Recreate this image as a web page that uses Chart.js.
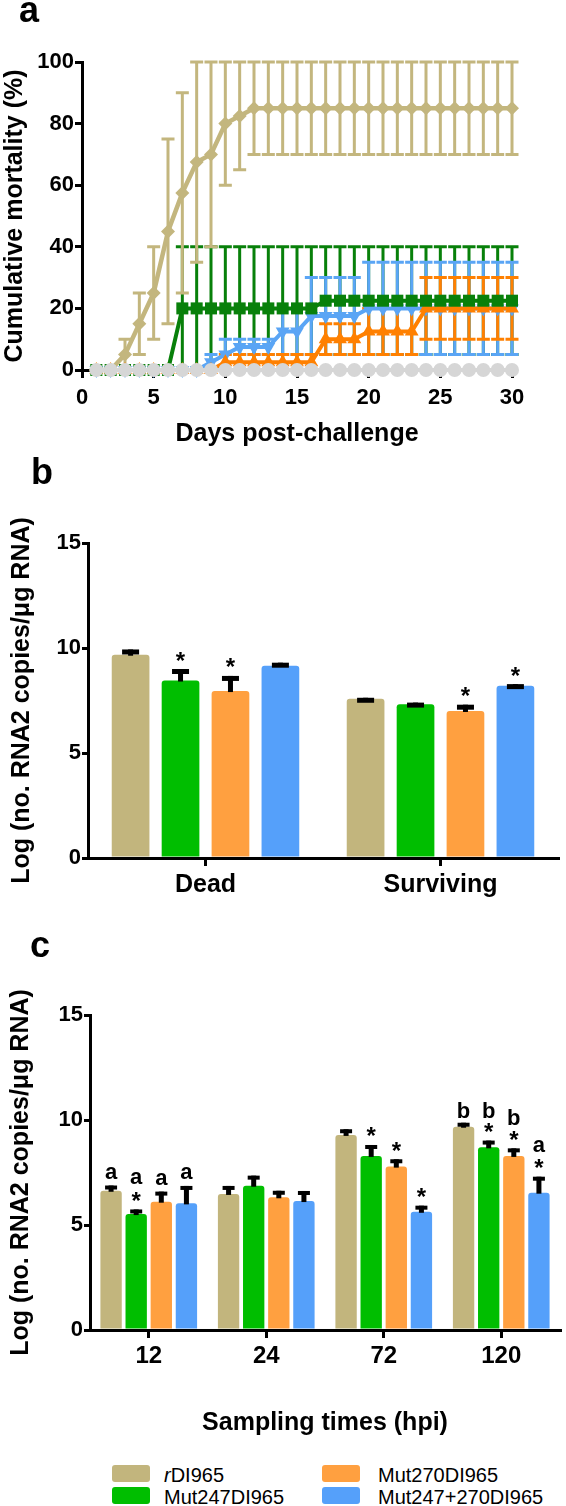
<!DOCTYPE html>
<html>
<head>
<meta charset="utf-8">
<script src="https://cdn.jsdelivr.net/npm/chart.js@4.4.1/dist/chart.umd.min.js"></script>
<style>
  html, body { margin:0; padding:0; background:#fff; }
  body { width:566px; height:1506px; position:relative; overflow:hidden; font-family:"Liberation Sans", Arial, Helvetica, sans-serif; }
  canvas { position:absolute; left:0; }
  .panel { position:absolute; font-weight:bold; font-size:36px; line-height:36px; color:#000; }
  .sw { position:absolute; width:38px; height:17px; border-radius:3px; }
  .lt { position:absolute; font-size:20px; line-height:20px; color:#000; white-space:nowrap; }
</style>
</head>
<body>
<canvas id="chartA" width="566" height="450" style="top:0px"></canvas>
<canvas id="chartB" width="566" height="440" style="top:460px"></canvas>
<canvas id="chartC" width="566" height="485" style="top:960px"></canvas>
<div class="panel" style="left:19px;top:-8px">a</div>
<div class="panel" style="left:31px;top:454px">b</div>
<div class="panel" style="left:30px;top:927px">c</div>
<div id="legend"></div>
<script>
// ---------- shared ----------
const FONT = '"Liberation Sans", Arial, Helvetica, sans-serif';
const seriesNames = ['rDI965', 'Mut247DI965', 'Mut270DI965', 'Mut247+270DI965'];
const barColors  = ['#c2b57d', '#00be00', '#ffa040', '#55a0fa'];
const lineColors = ['#c3b67e', '#08800a', '#ff8000', '#5aa5f5'];
const controlColor = '#d6d6d6';

// ---------- panel a : cumulative mortality (%) ----------
const days      = [1,2,3,4,5,6,7,8,9,10,11,12,13,14,15,16,17,18,19,20,21,22,23,24,25,26,27,28,29,30];
const mortR     = [0,0,5,15,25,45,57.5,67.5,70,80,82.5,85,85,85,85,85,85,85,85,85,85,85,85,85,85,85,85,85,85,85];
const mortRLo   = [0,0,0,5,10,15,25,35,40,60,65,70,70,70,70,70,70,70,70,70,70,70,70,70,70,70,70,70,70,70];
const mortRHi   = [0,0,10,25,40,75,90,100,100,100,100,100,100,100,100,100,100,100,100,100,100,100,100,100,100,100,100,100,100,100];
const mort247   = [0,0,0,0,0,0,20,20,20,20,20,20,20,20,20,20,22.5,22.5,22.5,22.5,22.5,22.5,22.5,22.5,22.5,22.5,22.5,22.5,22.5,22.5];
const mort247Lo = [0,0,0,0,0,0,0,0,0,0,0,0,0,0,0,0,5,5,5,5,5,5,5,5,5,5,5,5,5,5];
const mort247Hi = [0,0,0,0,0,0,40,40,40,40,40,40,40,40,40,40,40,40,40,40,40,40,40,40,40,40,40,40,40,40];
const mort270   = [0,0,0,0,0,0,0,0,0,2.5,2.5,2.5,2.5,2.5,2.5,2.5,10,10,10,12.5,12.5,12.5,12.5,20,20,20,20,20,20,20];
const mort270Lo = [0,0,0,0,0,0,0,0,0,0,0,0,0,0,0,0,5,5,5,5,5,5,5,10,10,10,10,10,10,10];
const mort270Hi = [0,0,0,0,0,0,0,0,0,5,5,5,5,5,5,5,15,15,15,20,20,20,20,30,30,30,30,30,30,30];
const mortB     = [0,0,0,0,0,0,0,0,2.5,5,7.5,7.5,7.5,12.5,12.5,17.5,17.5,17.5,17.5,20,20,20,20,20,20,20,20,20,20,20];
const mortBLo   = [0,0,0,0,0,0,0,0,0,0,5,5,5,5,5,5,5,5,5,5,5,5,5,5,5,5,5,5,5,5];
const mortBHi   = [0,0,0,0,0,0,0,0,5,10,10,10,10,20,20,30,30,30,30,35,35,35,35,35,35,35,35,35,35,35];
const mortCtl   = [0,0,0,0,0,0,0,0,0,0,0,0,0,0,0,0,0,0,0,0,0,0,0,0,0,0,0,0,0,0];
const aTicksX   = [0,5,10,15,20,25,30];
const aTicksY   = [0,20,40,60,80,100];

// ---------- panel b : viral load, dead vs surviving ----------
const bCategories = ['Dead', 'Surviving'];
const bMean_r       = [9.68, 7.58];
const bErr_r        = [0.25, 0.05];
const bMean_m247    = [8.45, 7.32];
const bErr_m247     = [0.55, 0.08];
const bMean_m270    = [7.95, 7.00];
const bErr_m270     = [0.72, 0.30];
const bMean_m247270 = [9.15, 8.20];
const bErr_m247270  = [0.15, 0.08];
const bStar_r       = ['', ''];
const bStar_m247    = ['*', ''];
const bStar_m270    = ['*', '*'];
const bStar_m247270 = ['', '*'];

// ---------- panel c : viral load over sampling times ----------
const cCategories = ['12', '24', '72', '120'];
const cMean_r       = [6.63, 6.48, 9.29, 9.68];
const cErr_r        = [0.25, 0.38, 0.27, 0.19];
const cMean_m247    = [5.52, 6.87, 8.29, 8.70];
const cErr_m247     = [0.22, 0.48, 0.52, 0.32];
const cMean_m270    = [6.11, 6.32, 7.78, 8.29];
const cErr_m270     = [0.48, 0.31, 0.35, 0.36];
const cMean_m247270 = [6.03, 6.14, 5.63, 6.54];
const cErr_m247270  = [0.83, 0.48, 0.29, 0.76];
const cStar_r       = ['', '', '', ''];
const cStar_m247    = ['*', '', '*', '*'];
const cStar_m270    = ['', '', '*', '*'];
const cStar_m247270 = ['', '', '*', '*'];
const cLetter_r       = ['a', '', '', 'b'];
const cLetter_m247    = ['a', '', '', 'b'];
const cLetter_m270    = ['a', '', '', 'b'];
const cLetter_m247270 = ['a', '', '', 'a'];
const bcTicksY = [0, 5, 10, 15];

// ---------- plugins ----------
// all range (error) bars are painted first, under every line and marker
const rangeBars = {
  id: 'rangeBars',
  beforeDatasetsDraw(chart) {
    const ys = chart.scales.y, ctx = chart.ctx;
    const order = chart.options.errOrder || [];
    ctx.save();
    ctx.lineWidth = 3;
    ctx.lineCap = 'butt';
    order.forEach(di => {
      const ds = chart.data.datasets[di];
      if (!ds.errLo) return;
      const meta = chart.getDatasetMeta(di);
      ctx.strokeStyle = ds.borderColor;
      meta.data.forEach((pt, i) => {
        const x = pt.x;
        const yl = ys.getPixelForValue(ds.errLo[i]);
        const yh = ys.getPixelForValue(ds.errHi[i]);
        const cw = 6.5;
        ctx.beginPath();
        ctx.moveTo(x, yl); ctx.lineTo(x, yh);
        ctx.moveTo(x - cw, yl); ctx.lineTo(x + cw, yl);
        ctx.moveTo(x - cw, yh); ctx.lineTo(x + cw, yh);
        ctx.stroke();
      });
    });
    ctx.restore();
  }
};

function makeBarErr(capW, stemW, capH, noteSize) {
  return {
    id: 'barErr',
    afterDatasetsDraw(chart) {
      const ctx = chart.ctx, ys = chart.scales.y;
      ctx.save();
      chart.data.datasets.forEach((ds, di) => {
        const meta = chart.getDatasetMeta(di);
        meta.data.forEach((bar, i) => {
          const x = bar.x;
          const yTop = ys.getPixelForValue(ds.data[i]);
          const yCap = ys.getPixelForValue(ds.data[i] + ds.err[i]);
          ctx.fillStyle = '#000';
          ctx.fillRect(x - stemW / 2, yCap, stemW, yTop - yCap + 1);
          ctx.fillRect(x - capW / 2, yCap, capW, capH);
          const notes = ds.notes[i];
          ctx.textAlign = 'center';
          ctx.textBaseline = 'alphabetic';
          notes.forEach((t, k) => {
            ctx.font = 'bold ' + (t === '*' ? noteSize + 2 : noteSize) + 'px ' + FONT;
            const m = ctx.measureText(t);
            const cy = yCap - 13 - 18 * k;
            const base = cy + (m.actualBoundingBoxAscent - m.actualBoundingBoxDescent) / 2;
            ctx.fillText(t, x, base);
          });
        });
      });
      ctx.restore();
    }
  };
}

function axisCommon(tickSize, tickLen, pad) {
  return {
    ticks: { color: '#000', font: { family: FONT, size: tickSize, weight: 'bold' }, padding: pad, maxRotation: 0, autoSkip: false },
    grid: { drawOnChartArea: false, color: '#000', lineWidth: 3, tickLength: tickLen },
    border: { color: '#000', width: 3 }
  };
}

// ---------- chart a ----------
function lineDs(vals, lo, hi, color, style, radius, rot, width) {
  return {
    data: days.map((d, i) => ({ x: d, y: vals[i] })),
    errLo: lo, errHi: hi,
    borderColor: color, backgroundColor: color,
    pointBackgroundColor: color, pointBorderColor: color,
    borderWidth: width, pointStyle: style, pointRadius: radius, pointRotation: rot,
    pointBorderWidth: 0, tension: 0, clip: false
  };
}

// dataset 0 is painted on top, the last one at the bottom
new Chart(document.getElementById('chartA'), {
  type: 'line',
  data: { datasets: [
    lineDs(mortCtl, null, null, controlColor, 'circle', 7, 0, 4),
    lineDs(mortR, mortRLo, mortRHi, lineColors[0], 'rectRot', 7, 0, 4.5),
    lineDs(mort247, mort247Lo, mort247Hi, lineColors[1], 'rect', 8.5, 0, 4),
    lineDs(mort270, mort270Lo, mort270Hi, lineColors[2], 'triangle', 8, 0, 4),
    lineDs(mortB, mortBLo, mortBHi, lineColors[3], 'triangle', 8, 180, 4)
  ]},
  options: {
    errOrder: [2, 4, 3, 1],
    responsive: false, animation: false, events: [],
    layout: { padding: { left: 0, right: 54, top: 62, bottom: 0 } },
    plugins: { legend: { display: false }, tooltip: { enabled: false } },
    scales: {
      x: Object.assign({}, axisCommon(22, 8, 7), {
        type: 'linear', min: 0, max: 30,
        afterFit(s) { s.height = 80; },
        afterBuildTicks(s) { s.ticks = aTicksX.map(v => ({ value: v })); },
        title: { display: true, text: 'Days post-challenge', color: '#000', font: { family: FONT, size: 25, weight: 'bold' }, padding: { top: 0, bottom: 1 } }
      }),
      y: Object.assign({}, axisCommon(22, 7, 1), {
        min: 0, max: 100,
        afterFit(s) { s.width = 82; },
        afterBuildTicks(s) { s.ticks = aTicksY.map(v => ({ value: v })); },
        title: { display: true, text: 'Cumulative mortality (%)', color: '#000', font: { family: FONT, size: 25, weight: 'bold' }, padding: 0 }
      })
    }
  },
  plugins: [rangeBars]
});

// ---------- chart b ----------
const bMeans = [bMean_r, bMean_m247, bMean_m270, bMean_m247270];
const bErrs  = [bErr_r, bErr_m247, bErr_m270, bErr_m247270];
const bStars = [bStar_r, bStar_m247, bStar_m270, bStar_m247270];
new Chart(document.getElementById('chartB'), {
  type: 'bar',
  data: {
    labels: bCategories,
    datasets: seriesNames.map((n, k) => ({
      label: n, data: bMeans[k], err: bErrs[k],
      notes: bStars[k].map(s => s ? [s] : []),
      backgroundColor: barColors[k], borderWidth: 0,
      borderRadius: { topLeft: 3, topRight: 3 }, borderSkipped: 'bottom',
      categoryPercentage: 0.85, barPercentage: 0.755
    }))
  },
  options: {
    responsive: false, animation: false, events: [],
    layout: { padding: { left: 0, right: 8, top: 83, bottom: 0 } },
    plugins: { legend: { display: false }, tooltip: { enabled: false } },
    scales: {
      x: Object.assign({}, axisCommon(25, 8, 4), {
        afterFit(s) { s.height = 42; },
        grid: { offset: false, drawOnChartArea: false, color: '#000', lineWidth: 3, tickLength: 8 }
      }),
      y: Object.assign({}, axisCommon(22, 6, 1), {
        min: 0, max: 15,
        afterFit(s) { s.width = 88; },
        afterBuildTicks(s) { s.ticks = bcTicksY.map(v => ({ value: v })); },
        title: { display: true, text: 'Log (no. RNA2 copies/μg RNA)', color: '#000', font: { family: FONT, size: 25, weight: 'bold' }, padding: { top: 7, bottom: 0 } }
      })
    }
  },
  plugins: [makeBarErr(17, 5, 5, 22)]
});

// ---------- chart c ----------
const cMeans   = [cMean_r, cMean_m247, cMean_m270, cMean_m247270];
const cErrs    = [cErr_r, cErr_m247, cErr_m270, cErr_m247270];
const cStars   = [cStar_r, cStar_m247, cStar_m270, cStar_m247270];
const cLetters = [cLetter_r, cLetter_m247, cLetter_m270, cLetter_m247270];
new Chart(document.getElementById('chartC'), {
  type: 'bar',
  data: {
    labels: cCategories,
    datasets: seriesNames.map((n, k) => ({
      label: n, data: cMeans[k], err: cErrs[k],
      notes: cStars[k].map((s, i) => [s, cLetters[k][i]].filter(t => t)),
      backgroundColor: barColors[k], borderWidth: 0,
      borderRadius: { topLeft: 3, topRight: 3 }, borderSkipped: 'bottom',
      categoryPercentage: 0.855, barPercentage: 0.85
    }))
  },
  options: {
    responsive: false, animation: false, events: [],
    layout: { padding: { left: 0, right: 6, top: 55, bottom: 0 } },
    plugins: { legend: { display: false }, tooltip: { enabled: false } },
    scales: {
      x: Object.assign({}, axisCommon(24, 8, 4), {
        afterFit(s) { s.height = 115; },
        grid: { offset: false, drawOnChartArea: false, color: '#000', lineWidth: 3, tickLength: 8 },
        title: { display: true, text: 'Sampling times (hpi)', color: '#000', font: { family: FONT, size: 25, weight: 'bold' }, padding: { top: 0, bottom: 7 } }
      }),
      y: Object.assign({}, axisCommon(22, 6, 1), {
        min: 0, max: 15,
        afterFit(s) { s.width = 90; },
        afterBuildTicks(s) { s.ticks = bcTicksY.map(v => ({ value: v })); },
        title: { display: true, text: 'Log (no. RNA2 copies/μg RNA)', color: '#000', font: { family: FONT, size: 25, weight: 'bold' }, padding: { top: 6, bottom: 0 } }
      })
    }
  },
  plugins: [makeBarErr(12, 5, 4, 22)]
});

// ---------- legend (HTML text) ----------
const legendSlots = [[112, 1465], [112, 1487], [322, 1465], [322, 1487]];
const legendTextX = [164, 164, 378, 378];
const leg = document.getElementById('legend');
seriesNames.forEach((n, k) => {
  const sw = document.createElement('div');
  sw.className = 'sw';
  sw.style.left = legendSlots[k][0] + 'px';
  sw.style.top = legendSlots[k][1] + 'px';
  sw.style.background = barColors[k];
  leg.appendChild(sw);
  const t = document.createElement('div');
  t.className = 'lt';
  t.style.left = legendTextX[k] + 'px';
  t.style.top = legendSlots[k][1] + 'px';
  if (n.charAt(0) === 'r') {
    const it = document.createElement('i');
    it.textContent = 'r';
    t.appendChild(it);
    t.appendChild(document.createTextNode(n.slice(1)));
  } else {
    t.textContent = n;
  }
  leg.appendChild(t);
});
</script>
</body>
</html>
